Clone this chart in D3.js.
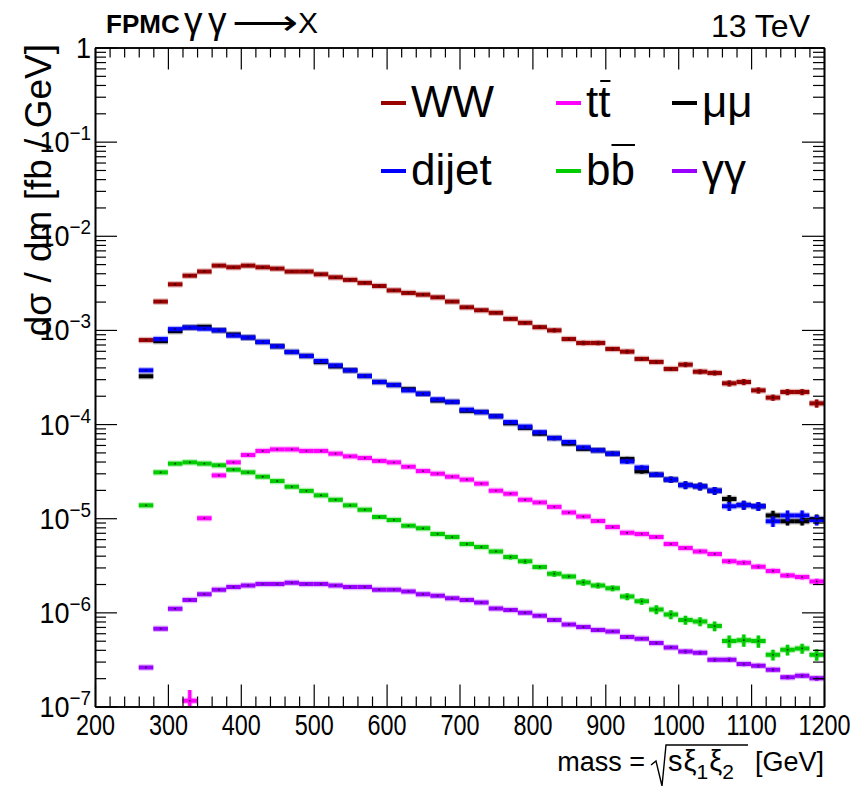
<!DOCTYPE html>
<html>
<head>
<meta charset="utf-8">
<script src="https://cdn.jsdelivr.net/npm/d3@7"></script>
<style>
  body { margin: 0; background: #fff; }
  svg { display: block; }
  text { font-family: "Liberation Sans", Arial, Helvetica, sans-serif; fill: #000; }
</style>
</head>
<body>
<svg id="chart" width="855" height="786"></svg>
<script>
// Binning of the diphoton-exchange mass spectrum (GeV)
const firstBinLow = 260;
const binWidth = 20;
const binCenters = d3.range(firstBinLow + binWidth / 2, 1200, binWidth);

// dσ/dm per 20 GeV bin [fb/GeV]
const ww = [7.8e-4, 2.0e-3, 3.05e-3, 3.77e-3, 4.17e-3, 4.82e-3, 4.63e-3, 4.82e-3, 4.63e-3, 4.48e-3,
  4.17e-3, 4.17e-3, 3.9e-3, 3.62e-3, 3.4e-3, 3.16e-3, 2.93e-3, 2.63e-3, 2.47e-3, 2.37e-3,
  2.22e-3, 2.0e-3, 1.74e-3, 1.62e-3, 1.52e-3, 1.31e-3, 1.19e-3, 1.07e-3, 9.9e-4, 8.0e-4,
  7.27e-4, 7.27e-4, 6.28e-4, 5.88e-4, 4.92e-4, 4.57e-4, 3.85e-4, 4.28e-4, 3.6e-4, 3.49e-4,
  2.71e-4, 2.8e-4, 2.28e-4, 1.91e-4, 2.19e-4, 2.19e-4, 1.66e-4];
const dijet = [3.72e-4, 8.0e-4, 1.02e-3, 1.06e-3, 1.03e-3, 9.9e-4, 8.7e-4, 8.3e-4, 7.45e-4, 6.7e-4,
  5.83e-4, 5.29e-4, 4.68e-4, 4.2e-4, 3.72e-4, 3.24e-4, 2.8e-4, 2.6e-4, 2.28e-4, 2.1e-4,
  1.83e-4, 1.72e-4, 1.42e-4, 1.34e-4, 1.21e-4, 1.05e-4, 9.4e-5, 8.2e-5, 7.1e-5, 6.45e-5,
  5.66e-5, 5.26e-5, 4.85e-5, 4.0e-5, 3.45e-5, 2.9e-5, 2.57e-5, 2.25e-5, 2.18e-5, 1.96e-5,
  1.34e-5, 1.38e-5, 1.34e-5, 9.3e-6, 1.07e-5, 1.07e-5, 9.6e-6];
const mumu = [3.22e-4, 7.6e-4, 9.7e-4, 1.06e-3, 1.08e-3, 9.9e-4, 8.95e-4, 8.3e-4, 7.45e-4, 6.7e-4,
  5.83e-4, 5.29e-4, 4.55e-4, 4.1e-4, 3.72e-4, 3.24e-4, 2.8e-4, 2.6e-4, 2.35e-4, 2.1e-4,
  1.78e-4, 1.72e-4, 1.38e-4, 1.34e-4, 1.21e-4, 1.02e-4, 9.1e-5, 7.9e-5, 7.1e-5, 6.2e-5,
  5.45e-5, 5.26e-5, 4.85e-5, 4.25e-5, 3.15e-5, 2.9e-5, 2.57e-5, 2.25e-5, 2.18e-5, 1.96e-5,
  1.6e-5, 1.38e-5, 1.34e-5, 1.07e-5, 9.3e-6, 9.3e-6, 9.8e-6];
const ttbar = [null, null, null, 1.15e-7, 1.0e-5, 2.85e-5, 3.92e-5, 4.69e-5, 5.18e-5, 5.38e-5,
  5.38e-5, 5.18e-5, 5.18e-5, 4.85e-5, 4.54e-5, 4.36e-5, 4.06e-5, 3.92e-5, 3.52e-5, 3.17e-5,
  2.97e-5, 2.76e-5, 2.57e-5, 2.33e-5, 1.96e-5, 1.82e-5, 1.57e-5, 1.47e-5, 1.32e-5, 1.15e-5,
  1.04e-5, 9.33e-6, 8.05e-6, 7.0e-6, 6.8e-6, 6.3e-6, 5.32e-6, 4.82e-6, 4.44e-6, 4.17e-6,
  3.48e-6, 3.37e-6, 3.05e-6, 2.75e-6, 2.47e-6, 2.37e-6, 2.13e-6];
const bbbar = [1.37e-5, 3.07e-5, 3.8e-5, 3.92e-5, 3.8e-5, 3.65e-5, 3.28e-5, 3.07e-5, 2.76e-5, 2.48e-5,
  2.16e-5, 1.95e-5, 1.75e-5, 1.57e-5, 1.37e-5, 1.23e-5, 1.03e-5, 9.6e-6, 8.3e-6, 7.8e-6,
  6.8e-6, 6.3e-6, 5.32e-6, 4.94e-6, 4.44e-6, 3.87e-6, 3.48e-6, 3.03e-6, 2.57e-6, 2.41e-6,
  2.08e-6, 1.93e-6, 1.8e-6, 1.47e-6, 1.31e-6, 1.07e-6, 9.5e-7, 8.3e-7, 8.0e-7, 7.15e-7,
  4.95e-7, 5.07e-7, 4.95e-7, 3.55e-7, 4.01e-7, 4.14e-7, 3.55e-7];
const gamgam = [2.6e-7, 6.7e-7, 1.09e-6, 1.35e-6, 1.56e-6, 1.74e-6, 1.86e-6, 1.93e-6, 2.0e-6, 2.0e-6,
  2.06e-6, 2.0e-6, 2.0e-6, 1.93e-6, 1.86e-6, 1.86e-6, 1.74e-6, 1.74e-6, 1.67e-6, 1.56e-6,
  1.5e-6, 1.41e-6, 1.35e-6, 1.27e-6, 1.1e-6, 1.06e-6, 9.9e-7, 9.2e-7, 8.3e-7, 7.45e-7,
  6.98e-7, 6.48e-7, 6.27e-7, 5.47e-7, 5.25e-7, 4.72e-7, 4.24e-7, 3.84e-7, 3.72e-7, 3.14e-7,
  3.14e-7, 2.82e-7, 2.71e-7, 2.46e-7, 2.05e-7, 2.12e-7, 1.99e-7];

// Relative statistical uncertainties per bin
const wwErr = [0.02, 0.02, 0.02, 0.02, 0.02, 0.02, 0.02, 0.02, 0.02, 0.02,
  0.02, 0.02, 0.02, 0.02, 0.02, 0.02, 0.02, 0.02, 0.02, 0.02,
  0.02, 0.02, 0.02, 0.02, 0.02, 0.02, 0.045, 0.045, 0.05, 0.045,
  0.055, 0.055, 0.05, 0.05, 0.05, 0.05, 0.05, 0.06, 0.06, 0.06,
  0.075, 0.075, 0.075, 0.075, 0.075, 0.075, 0.1];
const dijetErr = [0.02, 0.02, 0.02, 0.02, 0.02, 0.02, 0.02, 0.02, 0.02, 0.02,
  0.02, 0.02, 0.02, 0.02, 0.02, 0.02, 0.02, 0.02, 0.02, 0.02,
  0.02, 0.02, 0.02, 0.02, 0.03, 0.03, 0.03, 0.04, 0.05, 0.04,
  0.04, 0.04, 0.05, 0.055, 0.055, 0.055, 0.075, 0.095, 0.095, 0.095,
  0.11, 0.11, 0.11, 0.13, 0.13, 0.13, 0.13];
const mumuErr = [0.02, 0.02, 0.02, 0.02, 0.02, 0.02, 0.02, 0.02, 0.02, 0.02,
  0.02, 0.02, 0.02, 0.02, 0.02, 0.02, 0.02, 0.02, 0.02, 0.02,
  0.02, 0.02, 0.02, 0.02, 0.03, 0.03, 0.03, 0.04, 0.05, 0.04,
  0.04, 0.04, 0.05, 0.055, 0.055, 0.055, 0.075, 0.095, 0.095, 0.095,
  0.1, 0.11, 0.11, 0.12, 0.1, 0.1, 0.12];
const ttbarErr = [0, 0, 0, 0.3, 0.02, 0.02, 0.02, 0.02, 0.02, 0.02,
  0.02, 0.02, 0.02, 0.02, 0.02, 0.02, 0.02, 0.02, 0.02, 0.02,
  0.02, 0.02, 0.02, 0.02, 0.02, 0.02, 0.02, 0.02, 0.02, 0.03,
  0.04, 0.04, 0.04, 0.04, 0.04, 0.04, 0.045, 0.045, 0.045, 0.045,
  0.055, 0.055, 0.055, 0.055, 0.055, 0.055, 0.065];
const bbbarErr = [0.02, 0.02, 0.02, 0.02, 0.02, 0.02, 0.02, 0.02, 0.02, 0.02,
  0.02, 0.02, 0.02, 0.02, 0.02, 0.02, 0.02, 0.02, 0.02, 0.02,
  0.04, 0.04, 0.04, 0.04, 0.04, 0.06, 0.06, 0.05, 0.07, 0.05,
  0.08, 0.07, 0.07, 0.085, 0.08, 0.11, 0.11, 0.11, 0.11, 0.12,
  0.15, 0.15, 0.15, 0.13, 0.13, 0.12, 0.14];
const gamgamErr = [0.02, 0.02, 0.02, 0.02, 0.02, 0.02, 0.02, 0.02, 0.02, 0.02,
  0.02, 0.02, 0.02, 0.02, 0.02, 0.02, 0.02, 0.02, 0.02, 0.02,
  0.02, 0.02, 0.02, 0.02, 0.02, 0.02, 0.02, 0.02, 0.03, 0.03,
  0.03, 0.03, 0.03, 0.03, 0.03, 0.03, 0.04, 0.05, 0.05, 0.05,
  0.055, 0.05, 0.05, 0.05, 0.05, 0.05, 0.055];

// Axis ticks
const xMajorTicks = d3.range(200, 1201, 100);
const xMinorTicks = d3.range(200, 1201, 20).filter(v => v % 100 !== 0);
const yExponents = d3.range(-7, 1);
const yMajorTicks = yExponents.map(k => +("1e" + k));
const yMinorTicks = d3.range(-7, 0).flatMap(k => d3.range(2, 10).map(m => +(m + "e" + k)));

// Series, in drawing order
const series = [
  { key: "WW",    values: ww,     errors: wwErr,     color: "#990000" },
  { key: "ttbar", values: ttbar,  errors: ttbarErr,  color: "#ff00ff" },
  { key: "mumu",  values: mumu,   errors: mumuErr,   color: "#000000" },
  { key: "dijet", values: dijet,  errors: dijetErr,  color: "#0000ff" },
  { key: "bbbar", values: bbbar,  errors: bbbarErr,  color: "#00cc00" },
  { key: "gamgam",values: gamgam, errors: gamgamErr, color: "#9900ff" }
];

const svg = d3.select("#chart");
svg.append("rect").attr("width", 855).attr("height", 786).attr("fill", "#fff");

const frame = { left: 95, right: 824, top: 47.5, bottom: 706.5 };
const x = d3.scaleLinear().domain([200, 1200]).range([frame.left, frame.right]);
const y = d3.scaleLog().domain([1e-7, 1]).range([frame.bottom, frame.top]);

svg.append("defs").append("clipPath").attr("id", "plotClip")
  .append("rect")
  .attr("x", frame.left).attr("y", frame.top)
  .attr("width", frame.right - frame.left).attr("height", frame.bottom - frame.top);

// Histogram bins with error bars
const plot = svg.append("g").attr("clip-path", "url(#plotClip)");
series.forEach(s => {
  const pts = binCenters.map((c, i) => ({ c, v: s.values[i], e: s.errors[i] }))
    .filter(d => d.v != null && d.v > 0);
  const g = plot.append("g").attr("class", "series-" + s.key);
  const layers = [
    { w: 6.5, op: 0.28 },
    { w: 4, op: 1 }
  ];
  layers.forEach(L => {
    g.selectAll(null).data(pts).join("line")
      .attr("x1", d => x(d.c - binWidth / 2)).attr("x2", d => x(d.c + binWidth / 2))
      .attr("y1", d => y(d.v)).attr("y2", d => y(d.v))
      .attr("stroke", s.color).attr("stroke-width", L.w).attr("stroke-opacity", L.op);
    g.selectAll(null).data(pts.filter(d => d.e > 0)).join("line")
      .attr("x1", d => x(d.c)).attr("x2", d => x(d.c))
      .attr("y1", d => y(d.v * (1 + d.e))).attr("y2", d => y(d.v * (1 - d.e)))
      .attr("stroke", s.color).attr("stroke-width", L.w * 0.8).attr("stroke-opacity", L.op);
  });
  g.selectAll(null).data(pts).join("rect")
    .attr("x", d => x(d.c) - 0.8).attr("y", d => y(d.v) - 0.8)
    .attr("width", 1.6).attr("height", 1.6)
    .attr("fill", "#000").attr("fill-opacity", 0.75);
});

// Axes (ticks drawn inward on all four sides)
function styleAxis(g) {
  g.selectAll(".domain").attr("stroke", "#000").attr("stroke-width", 1.6);
  g.selectAll(".tick line").attr("stroke", "#000").attr("stroke-width", 1.2);
}
const axisFont = 30;

const xb = svg.append("g").attr("transform", `translate(0,${frame.bottom})`)
  .call(d3.axisBottom(x).tickValues(xMajorTicks).tickSize(-22).tickSizeOuter(0).tickPadding(28)
    .tickFormat(d3.format("d")));
svg.append("g").attr("transform", `translate(0,${frame.bottom})`)
  .call(d3.axisBottom(x).tickValues(xMinorTicks).tickSize(-10).tickSizeOuter(0).tickFormat(""))
  .call(styleAxis);
xb.call(styleAxis);
xb.selectAll(".tick text")
  .attr("font-size", axisFont).attr("font-family", null)
  .attr("y", 0).attr("dy", 29)
  .attr("transform", "scale(0.78,1)");

svg.append("g").attr("transform", `translate(0,${frame.top})`)
  .call(d3.axisTop(x).tickValues(xMajorTicks).tickSize(-22).tickSizeOuter(0).tickFormat(""))
  .call(styleAxis);
svg.append("g").attr("transform", `translate(0,${frame.top})`)
  .call(d3.axisTop(x).tickValues(xMinorTicks).tickSize(-10).tickSizeOuter(0).tickFormat(""))
  .call(styleAxis);

const yl = svg.append("g").attr("transform", `translate(${frame.left},0)`)
  .call(d3.axisLeft(y).tickValues(yMajorTicks).tickSize(-22).tickSizeOuter(0).tickFormat(""));
svg.append("g").attr("transform", `translate(${frame.left},0)`)
  .call(d3.axisLeft(y).tickValues(yMinorTicks).tickSize(-11).tickSizeOuter(0).tickFormat(""))
  .call(styleAxis);
yl.call(styleAxis);
svg.append("g").attr("transform", `translate(${frame.right},0)`)
  .call(d3.axisRight(y).tickValues(yMajorTicks).tickSize(-22).tickSizeOuter(0).tickFormat(""))
  .call(styleAxis);
svg.append("g").attr("transform", `translate(${frame.right},0)`)
  .call(d3.axisRight(y).tickValues(yMinorTicks).tickSize(-11).tickSizeOuter(0).tickFormat(""))
  .call(styleAxis);

// Power-of-ten labels on the y axis
yl.selectAll(".tick").each(function (d, i) {
  const k = yExponents[i];
  const t = d3.select(this).append("text")
    .attr("text-anchor", "end")
    .attr("transform", "translate(-4,10) scale(0.9,1)")
    .attr("font-size", axisFont);
  if (k === 0) {
    t.text("1");
  } else {
    t.append("tspan").text("10");
    t.append("tspan").attr("dy", -12).attr("font-size", 21).text("\u2212" + (-k));
  }
});

// Axis titles
svg.append("text")
  .attr("transform", `translate(51,44) rotate(-90)`)
  .attr("text-anchor", "end").attr("font-size", 37)
  .text("d\u03c3 / dm [fb / GeV]");

const xt = svg.append("g").attr("class", "x-title");
xt.append("text").attr("x", 645).attr("y", 771).attr("text-anchor", "end").attr("font-size", 27)
  .text("mass =");
xt.append("path")
  .attr("d", "M651,765 L656,761 L662,786 L666,745 L748,745")
  .attr("fill", "none").attr("stroke", "#000").attr("stroke-width", 1.4);
const rad = xt.append("text").attr("x", 668).attr("y", 771).attr("font-size", 29);
rad.append("tspan").text("s");
rad.append("tspan").attr("dx", 1).text("\u03be");
rad.append("tspan").attr("dy", 8).attr("font-size", 21).text("1");
rad.append("tspan").attr("dy", -8).attr("dx", 1).text("\u03be");
rad.append("tspan").attr("dy", 8).attr("font-size", 21).text("2");
xt.append("text").attr("x", 824).attr("y", 771).attr("text-anchor", "end").attr("font-size", 27)
  .text("[GeV]");

// Header: "FPMC γγ→X" and the beam energy
svg.append("text").attr("x", 106).attr("y", 33).attr("font-size", 26).attr("font-weight", "bold")
  .text("FPMC");
const hdr = svg.append("text").attr("y", 33);
hdr.append("tspan").attr("x", 184).attr("font-size", 37).text("\u03b3");
hdr.append("tspan").attr("x", 208).attr("font-size", 37).text("\u03b3");
hdr.append("tspan").attr("x", 298).attr("font-size", 30).text("X");
svg.append("text").attr("transform", "translate(232,34) scale(1.4,1)")
  .attr("font-size", 33).attr("font-family", "DejaVu Sans")
  .text("\u27f6");
svg.append("text").attr("x", 810).attr("y", 37).attr("text-anchor", "end").attr("font-size", 32)
  .text("13 TeV");

// Legend
const legendLabels = ["WW", "t", "\u03bc\u03bc", "dijet", "b", "\u03b3\u03b3"];
const legendBars = ["", "t", "", "", "b", ""];
const legendKeys = ["WW", "ttbar", "mumu", "dijet", "bbbar", "gamgam"];
const legendColX = [381, 556, 672];
const legendRowY = [103, 171];
const legend = svg.append("g").attr("font-size", 44);
legendKeys.forEach((key, i) => {
  const s = series.find(d => d.key === key);
  const cx = legendColX[i % 3], cy = legendRowY[Math.floor(i / 3)];
  legend.append("line").attr("x1", cx).attr("x2", cx + 25).attr("y1", cy).attr("y2", cy)
    .attr("stroke", s.color).attr("stroke-width", 4);
  const t = legend.append("text").attr("x", cx + 30).attr("y", cy + 14).text(legendLabels[i]);
  if (legendBars[i]) {
    const w1 = t.node().getComputedTextLength();
    const t2 = legend.append("text").attr("x", cx + 30 + w1).attr("y", cy + 14).text(legendBars[i]);
    const w2 = t2.node().getComputedTextLength();
    const barY = legendBars[i] === "t" ? cy - 22 : cy - 26;
    legend.append("line")
      .attr("x1", cx + 30 + w1 + (legendBars[i] === "t" ? 2 : 1)).attr("x2", cx + 30 + w1 + w2)
      .attr("y1", barY).attr("y2", barY)
      .attr("stroke", "#000").attr("stroke-width", 2);
  }
});
</script>
</body>
</html>
